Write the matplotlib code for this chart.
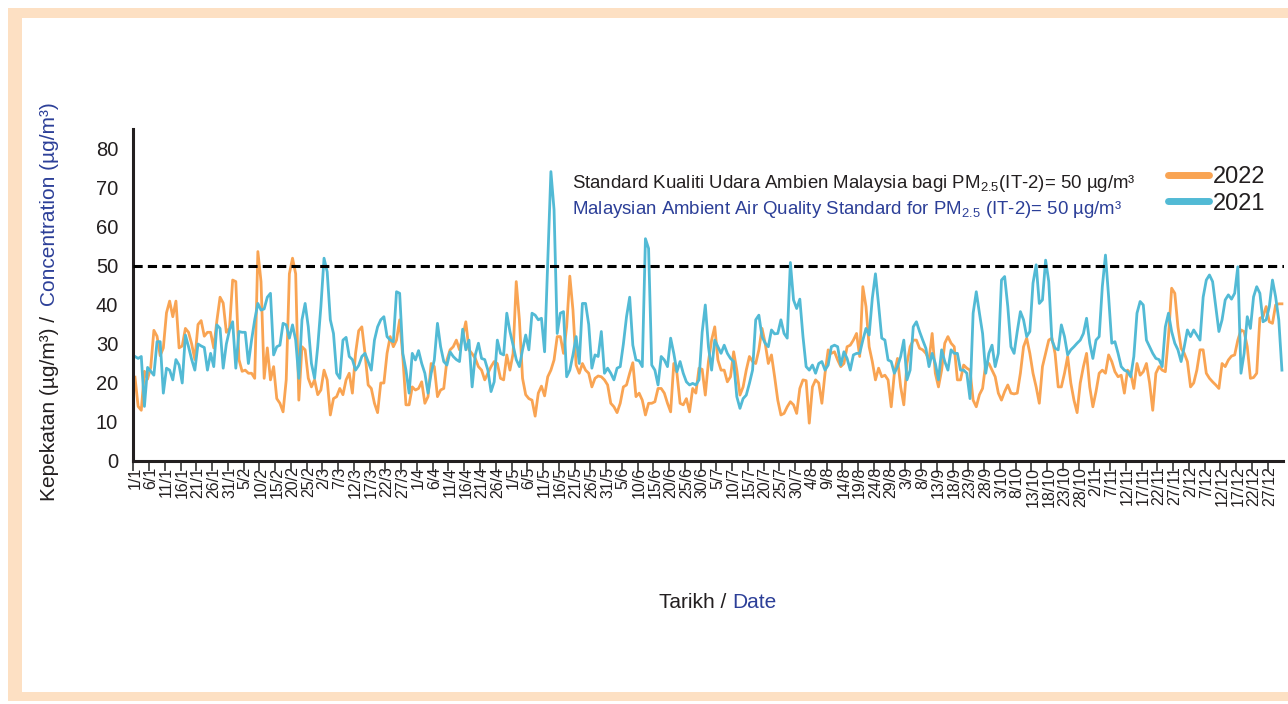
import numpy as np
import pandas as pd
import matplotlib
matplotlib.use("Agg")
import matplotlib.pyplot as plt
from matplotlib.patches import Rectangle

plt.rcParams['font.family'] = ['Liberation Sans', 'DejaVu Sans']
plt.rcParams['mathtext.fontset'] = 'custom'
plt.rcParams['mathtext.rm'] = 'Liberation Sans'
plt.rcParams['mathtext.it'] = 'Liberation Sans'

# Daily PM2.5 (ug/m3), 1 Jan - 31 Dec
pm25_2022 = [
    21.5, 14, 13, 23, 21, 24, 33.5, 32, 27, 29,
    38, 41, 37, 41, 29, 29.5, 34, 33, 30, 26,
    35, 36, 32, 33, 33, 29, 36, 42, 40.5, 33,
    34, 46.4, 46, 26, 23,
    23.3, 22.5, 22.5, 21.2, 53.7,
    46, 21.2, 29, 20.8, 24.2, 16, 14.8, 12.6, 20.8, 48,
    52, 48, 15.6, 29.3, 28.5, 21.2, 19, 20.8, 17, 18.2,
    23.3, 20.8, 11.8, 16, 16.5, 18.6, 17, 20.8, 22.5, 17.4,
    27.6, 33.4,
    34.4, 27.6, 19.5, 18.6, 14.8, 12.4, 20, 20,
    27.6, 31.9, 29.3, 31, 36.2, 26.8, 14.4, 14.4, 19, 18.2,
    18.6, 20.3, 14.8, 16.5, 25, 24.2, 16.5, 18.2, 18.6, 25.9,
    28.5, 29.3, 31, 28.5, 31.9, 35.7, 28.5, 27.5,
    26.3, 24.2, 23.3, 20.8, 22.5, 24.2, 25.5, 25, 21.2, 20.8,
    27.2, 23.3, 27.6, 46, 36.2, 21.2, 17, 16, 15.6, 11.5,
    17.4, 19.2, 16.7, 21.6, 23.3, 25.9, 31.9, 31.9, 27.6, 34.4,
    47.4, 38.7, 24.6, 22.5, 25, 23.3, 22.5,
    19, 21.2, 21.8, 21.6, 20.8, 19.5, 14.8, 13.9, 12.4, 14.8,
    19, 19.5, 22.5, 25.2, 16.5, 17.4, 15.6, 11.8, 14.8, 14.8,
    15.2, 18.6, 18.6, 17.4, 14.8, 12.6, 25, 22.5, 14.8, 14.4,
    16, 12.6, 18.6, 17.4, 23.8, 23.5,
    16.9, 25.5, 31, 34.4, 25.9, 23.3, 23.3, 20.3, 21.6, 28,
    23.3, 16.9, 19, 23.3, 26.8, 25.5, 25, 28.5, 34, 30.2,
    25, 27.2, 21.6, 15.6, 11.8, 12.2, 13.9, 15.2, 14.4, 12.2,
    18.6, 20.8, 20.6, 9.7, 19, 20.8, 20,
    14.8, 22.5, 28.5, 27.6, 28, 25.9, 24.2, 25, 29.3, 29.7,
    31, 32.7, 26.8, 44.7, 39.6, 29.3, 25.5, 20.8, 23.8, 21.6,
    22, 20.8, 13.9, 22.5, 26.3, 19, 14.4, 25, 29.3, 31,
    31, 28.9, 28.5, 27.6, 25.9, 32.7,
    22.5, 19, 23.3, 30.2, 31.9, 30.2, 29.3, 20.8, 20.8, 24.6,
    23.8, 23.3, 15.6, 13.9, 17, 18.6, 25, 25, 23.3, 21.6,
    17.4, 15.6, 17.8, 19.5, 17.4, 17.2, 17.4, 22.5, 29.3, 31.5,
    27.6, 22.5, 19, 14.8, 24.2, 27.6, 31,
    31.5, 27.6, 19, 19, 22.5, 26.8, 20, 15.6, 12.4, 20,
    24.2, 27.6, 19, 13.9, 17.8, 22.5, 23.3, 22.5, 27.2, 25.5,
    22.9, 21.6, 22, 17.4, 23.3, 22.5, 18.6, 25, 22, 22.9,
    25, 20, 13, 22.5, 24.2,
    23.3, 22.9, 31.9, 44.3, 43, 34.4, 28.9, 27.6, 25.5, 19,
    20, 23.3, 28.5, 28.5, 22.5, 21.2, 20.3, 19.5, 18.6, 25,
    24.2, 25.9, 26.9, 27.2, 31, 33.6, 33.2, 29.3, 21.2, 21.4,
    22.5, 36.6, 37, 39.6, 35.7, 35.3, 40, 40.3, 40.3,
]

pm25_2021 = [
    26.8, 26.3, 26.8, 14, 24, 23, 22, 30.6, 30.6, 17.4,
    23.8, 23.3, 20.8, 26, 24.6, 20, 32.3, 29.3, 26, 23.3,
    30, 29.5, 29.1, 23.3, 27.6, 24.2, 34.9, 34, 23.8, 30,
    33.6, 35.7, 23.8, 33.2, 33,
    33, 25, 31, 36.2, 40.4,
    38.7, 39, 42, 43, 27.2, 29.3, 29.7, 35.3, 34.9, 31.5,
    34.9, 31, 21.2, 36.2, 40.4, 34.4, 25, 21.2, 29.3, 39.6,
    52, 48.5, 36.2, 32.7, 22.5, 21.2, 31, 31.7, 26.8, 26,
    23.3, 24.5,
    26.8, 27.6, 25.5, 23.3, 31, 34.4, 36.2, 37,
    31.9, 31, 30.6, 43.4, 43, 27.6, 23.3, 17.4, 27.6, 25.9,
    28.3, 25, 22.5, 17.4, 22.5, 25.9, 35.3, 29.3, 25.5, 24.6,
    28, 26.8, 26, 25.5, 33.8, 28.5, 31, 19,
    27.2, 30.2, 26.3, 26, 23.3, 17.8, 20.3, 31, 27.6, 27.2,
    37.9, 33.2, 29.7, 26, 24.2, 28.5, 32.3, 28.5, 37.9, 37.4,
    36.2, 36.6, 28, 50.7, 74.2, 64.4, 32.7, 37.9, 38.3, 21.6,
    23.3, 27.2, 31.9, 25, 40.4, 40.4, 35,
    23.8, 27.2, 26.8, 33.2, 22.5, 23.8, 22.5, 20.8, 23.8, 24.2,
    30, 37, 42, 29.7, 25.9, 25.7, 24.2, 57, 54.5, 24.6,
    23.3, 19.5, 26.8, 25.9, 24.2, 31.5, 27.6, 22.9, 25.5, 22.5,
    20.3, 19.5, 19.9, 19.5, 20.8, 33,
    40, 29.3, 23.3, 31, 29.3, 27.6, 29.7, 27.6, 26.3, 25.5,
    16.5, 13.5, 16, 16.9, 19.9, 23.3, 36.2, 37.4, 31.9, 30.2,
    29.3, 33.6, 32.6, 32.7, 36.2, 32.7, 31.5, 50.9, 41.3, 39.1,
    41.5, 31.9, 24.2, 23.3, 24.6, 22.5, 25,
    25.5, 23.3, 24.6, 29.3, 29.7, 29.3, 24.6, 28, 26.3, 23.3,
    27.2, 27.6, 27.6, 31, 34, 32.3, 41.7, 48, 40, 31.5,
    31, 25.9, 25.5, 22.5, 24.2, 26.8, 31, 20.8, 23.3, 34.4,
    35.7, 33.2, 31, 28.9, 24.2, 27.6,
    25, 20.8, 28.5, 25.5, 23.3, 28.5, 27.6, 27.6, 23.3, 23.3,
    22.5, 16, 37.9, 43.4, 37.9, 32.7, 22.5, 27.6, 29.7, 24.2,
    27.6, 46.4, 47.3, 39.6, 29.3, 27.6, 33.2, 38.3, 36.2, 31.9,
    33.2, 45.6, 50.3, 40.4, 41.3, 51.5, 46,
    31, 28.9, 28.5, 34.9, 31.9, 27.2, 28.5, 29.3, 30.2, 31,
    32.7, 36.6, 30.2, 26.3, 31, 31.9, 44.7, 52.8, 42.1, 30.2,
    30.6, 27.6, 24.2, 23.3, 22.9, 21.6, 26.8, 37.9, 40.9, 40,
    31, 29.3, 27.6, 26.3, 26,
    24.2, 34.4, 37.9, 33.2, 30.2, 28.5, 25.5, 29.3, 33.6, 31.9,
    33.6, 32.3, 31, 42, 46.4, 47.7, 46, 39.6, 33.2, 36.2,
    41.3, 42.6, 41.5, 43, 49.8, 22.5, 27.6, 37, 34, 42.1,
    44.7, 43, 35.7, 36.2, 39.6, 46.4, 42.1, 36.2, 23.3,
]

days = np.arange(len(pm25_2022))
dates = pd.date_range("2022-01-01", periods=len(days), freq="D")
tick_days = days[::5]
tick_labels = [f"{d.day}/{d.month}" for d in dates[::5]]
std_limit = 50
y_ticks = [0, 10, 20, 30, 40, 50, 60, 70, 80]

ORANGE = "#F9A453"
BLUE = "#52BAD5"
NAVY = "#2C3F98"
INK = "#231F20"
PEACH = "#FDE0C3"

W, H = 1288, 704
fig = plt.figure(figsize=(W / 100, H / 100), dpi=100)

# peach frame round the chart (behind the axes)
fig.patches.append(Rectangle((8 / W, 3 / H), 1.2, 693 / H, transform=fig.transFigure,
                             facecolor=PEACH, edgecolor='none', zorder=-2))
fig.patches.append(Rectangle((22 / W, 12 / H), 1.2, 674 / H, transform=fig.transFigure,
                             facecolor='white', edgecolor='none', zorder=-1))

ax = fig.add_axes([133.4 / W, 1 - 461 / H, (1283.5 - 133.4) / W, (461 - 129.5) / H])
ax.set_zorder(1)
ax.patch.set_alpha(0)

ax.plot(days, pm25_2022, color=ORANGE, lw=2.0, label='2022')
ax.plot(days, pm25_2021, color=BLUE, lw=2.0, label='2021')
ax.axhline(std_limit, color='black', lw=2.2, ls=(0, (3, 1.7)), zorder=3)

ax.set_xlim(-0.5, 364.5)
ax.set_ylim(0, 85)
ax.set_yticks(y_ticks)
ax.tick_params(axis='y', length=0, pad=11, labelsize=14.5, labelcolor=INK)

ax.set_xticks(tick_days)
ax.set_xticklabels(tick_labels, rotation=90)
ax.set_xticks(tick_days - 0.5, minor=True)
ax.tick_params(axis='x', which='major', length=0, pad=4, labelsize=11.5, labelcolor=INK)
ax.tick_params(axis='x', which='minor', length=7, width=1.2, color='#333333')

for side in ['top', 'right']:
    ax.spines[side].set_visible(False)
for side in ['left', 'bottom']:
    ax.spines[side].set_linewidth(2.2)
    ax.spines[side].set_color(INK)

# axis titles (two colours)
fig.text(50 / W, 1 - 316 / H, "Kepekatan (µg/m³) /", rotation=90, rotation_mode='anchor',
         ha='right', va='center', fontsize=15, color=INK)
fig.text(50 / W, 1 - 306 / H, "Concentration (µg/m³)", rotation=90, rotation_mode='anchor',
         ha='left', va='center', fontsize=15, color=NAVY)
fig.text(726 / W, 1 - 603 / H, "Tarikh /", ha='right', va='center', fontsize=15, color=INK)
fig.text(732 / W, 1 - 603 / H, "Date", ha='left', va='center', fontsize=15, color=NAVY)

# standard note
fig.text(572 / W, 1 - 183 / H,
         r"Standard Kualiti Udara Ambien Malaysia bagi PM$_{\mathregular{2.5}}$(IT-2)= 50 µg/m³",
         ha='left', va='center', fontsize=13.4, color=INK)
fig.text(572 / W, 1 - 209 / H,
         r"Malaysian Ambient Air Quality Standard for PM$_{\mathregular{2.5}}$ (IT-2)= 50 µg/m³",
         ha='left', va='center', fontsize=13.4, color=NAVY)

leg = ax.legend(loc='upper left', bbox_to_anchor=(1168 / W, 1 - 166 / H),
                bbox_transform=fig.transFigure, frameon=False, fontsize=17,
                handlelength=1.75, handletextpad=0.15, labelspacing=0.2,
                borderpad=0, borderaxespad=0)
for line in leg.get_lines():
    line.set_linewidth(5)
    line.set_solid_capstyle('round')
for txt in leg.get_texts():
    txt.set_color(INK)

fig.savefig("out.png", dpi=100)
